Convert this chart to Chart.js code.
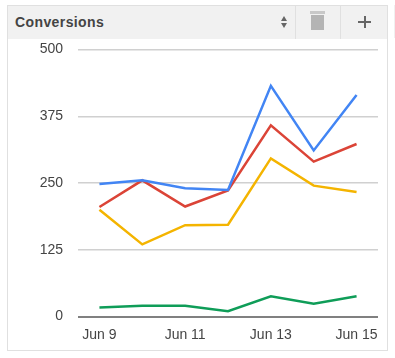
<!DOCTYPE html>
<html>
<head>
<meta charset="utf-8">
<style>
  html, body { margin: 0; padding: 0; background: #fff; overflow: hidden; }
  body { width: 395px; height: 358px; position: relative; font-family: Arial, "Liberation Sans", sans-serif; }
  #card { position: absolute; left: 7px; top: 5px; width: 379px; height: 344px; border: 1px solid #e0e0e0; }
  #head { position: absolute; left: 0; top: 0; width: 379px; height: 33px; background: #f1f1f1; }
  #title { position: absolute; left: 7px; top: 8px; font-size: 14px; font-weight: bold; color: #444; letter-spacing: 0.4px; }
  .sep { position: absolute; top: 0; width: 1px; height: 33px; background: #e0e0e0; }
  .up, .down { position: absolute; left: 273px; width: 0; height: 0; border-left: 3.5px solid transparent; border-right: 3.5px solid transparent; }
  .up { top: 10px; border-bottom: 5px solid #666; }
  .down { top: 17px; border-top: 5px solid #666; }
  #lid { position: absolute; left: 302px; top: 5px; width: 15px; height: 3px; background: #c8c8c8; }
  #bin { position: absolute; left: 303px; top: 9px; width: 13px; height: 15px; background: #b4b4b4; }
  #plus-h { position: absolute; left: 350px; top: 15px; width: 13px; height: 2px; background: #666; }
  #plus-v { position: absolute; left: 355.5px; top: 10px; width: 2px; height: 12px; background: #666; }
  #edge { position: absolute; left: 394px; top: 5px; width: 1px; height: 33px; background: #f0f0f0; }
  #wrap { position: absolute; left: 0; top: 0; width: 395px; height: 358px; }
</style>
</head>
<body>
<div id="card">
  <div id="head">
    <div id="title">Conversions</div>
    <div class="up"></div><div class="down"></div>
    <div class="sep" style="left:287px"></div>
    <div class="sep" style="left:332px"></div>
    <div id="lid"></div><div id="bin"></div>
    <div id="plus-h"></div><div id="plus-v"></div>
  </div>
</div>
<div id="edge"></div>
<div id="wrap"><canvas id="myChart" width="395" height="358"></canvas></div>
<script src="https://cdn.jsdelivr.net/npm/chart.js@4"></script>
<script>
const dates = ['Jun 9', 'Jun 10', 'Jun 11', 'Jun 12', 'Jun 13', 'Jun 14', 'Jun 15'];
const blueValues = [248, 255, 240, 237, 432, 311, 415];
const redValues = [205, 255, 206, 236, 358, 290, 323];
const yellowValues = [200, 135, 171, 172, 296, 245, 233];
const greenValues = [17, 20, 20, 10, 38, 24, 38];
const yTicks = [0, 125, 250, 375, 500];

const tickFont = { family: 'Arial, "Liberation Sans", sans-serif', size: 14 };

function series(values, color) {
    return { data: values, borderColor: color, borderWidth: 2.5, pointRadius: 0, tension: 0, fill: false };
}

new Chart(document.getElementById('myChart'), {
    type: 'line',
    data: {
        labels: dates,
        datasets: [
            series(greenValues, '#0f9d58'),
            series(yellowValues, '#f4b400'),
            series(blueValues, '#4285f4'),
            series(redValues, '#db4437'),
        ]
    },
    options: {
        responsive: false,
        animation: false,
        layout: { padding: { top: 49.5, right: 17, left: 0, bottom: 0 } },
        plugins: { legend: { display: false }, tooltip: { enabled: false } },
        scales: {
            x: {
                offset: true,
                afterFit(axis) { axis.height = 41.5; },
                grid: { display: false },
                border: { display: false },
                ticks: {
                    autoSkip: false,
                    maxRotation: 0,
                    color: '#444',
                    font: tickFont,
                    padding: 2,
                    callback(v, i) { return i % 2 === 0 ? dates[i] : ''; }
                }
            },
            y: {
                min: 0,
                max: 500,
                afterFit(axis) { axis.width = 78; },
                afterBuildTicks(axis) { axis.ticks = yTicks.map(v => ({ value: v })); },
                grid: {
                    drawTicks: false,
                    color: ctx => ctx.tick.value === 0 ? '#808080' : '#d0d0d0',
                    lineWidth: ctx => ctx.tick.value === 0 ? 2 : 1.5,
                },
                border: { display: false },
                ticks: {
                    color: '#444',
                    font: tickFont,
                    padding: 15,
                }
            }
        }
    }
});
</script>
</body>
</html>
